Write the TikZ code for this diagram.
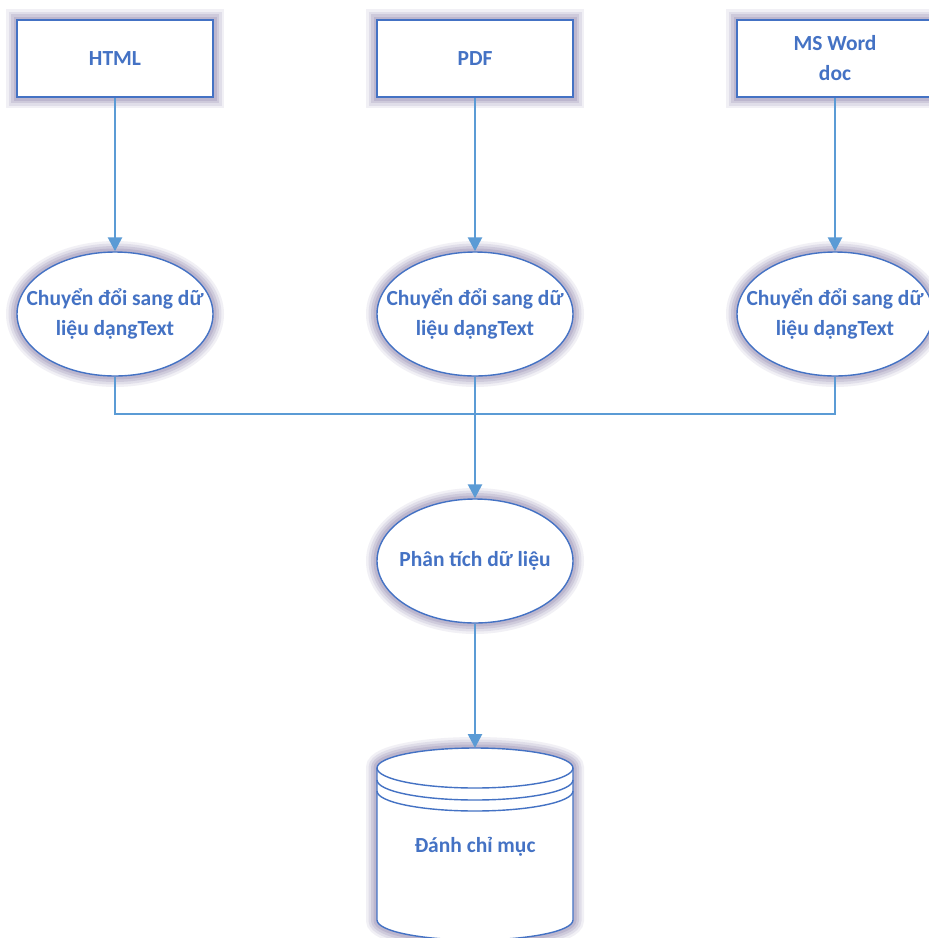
\documentclass[tikz,border=0pt]{standalone}
\usepackage{fontspec}
\setmainfont{Carlito}
\usetikzlibrary{arrows.meta,shapes.geometric}
\definecolor{edge}{RGB}{68,114,196}
\definecolor{link}{RGB}{91,155,213}
\definecolor{glowc}{RGB}{125,115,160}
\tikzset{
  glow/.style={
    preaction={draw=glowc, line width=22pt, draw opacity=0.10},
    preaction={draw=glowc, line width=17pt, draw opacity=0.14},
    preaction={draw=glowc, line width=12pt, draw opacity=0.18},
    preaction={draw=glowc, line width=7pt, draw opacity=0.22}},
  shape base/.style={draw=edge, line width=1.4pt, fill=white, glow, inner sep=0pt},
  srcbox/.style={shape base, rectangle, minimum width=196pt, minimum height=77pt},
  proc/.style={shape base, ellipse, minimum width=196pt, minimum height=124pt},
  lbl/.style={text=edge, font=\bfseries\fontsize{21.5}{30}\selectfont, align=center, inner sep=0pt},
  link line/.style={draw=link, line width=2.6pt},
  arr/.style={link line, -{Triangle[width=14pt,length=14pt]}}
}
\begin{document}
\begin{tikzpicture}[x=1pt,y=-1pt]
  \useasboundingbox (0,0) rectangle (929,938);
  \clip (0,0) rectangle (929,938);
  \fill[white] (0,0) rectangle (929,938);

  % source documents
  \node[srcbox] (html) at (115,58.5) {};
  \node[lbl] (htmlt) at (html) {HTML};
  \node[srcbox] (pdf) at (475,58.5) {};
  \node[lbl] (pdft) at (pdf) {PDF};
  \node[srcbox] (doc) at (835,58.5) {};
  \node[lbl] (doct) at (doc) {MS Word\\doc};

  % text conversion steps
  \node[proc] (c1) at (115,314) {};
  \node[lbl] (c1t) at (c1) {Chuyển đổi sang dữ\\liệu dạngText};
  \node[proc] (c2) at (475,314) {};
  \node[lbl] (c2t) at (c2) {Chuyển đổi sang dữ\\liệu dạngText};
  \node[proc] (c3) at (835,314) {};
  \node[lbl] (c3t) at (c3) {Chuyển đổi sang dữ\\liệu dạngText};

  % analysis step
  \node[proc] (ana) at (475,561) {};
  \node[lbl] (anat) at (ana) {Phân tích dữ liệu};

  % index store (cylinder)
  \coordinate (dbtop) at (475,748);
  \path[draw=edge, line width=1.4pt, fill=white, glow]
    (377,768) arc[start angle=180, end angle=0, x radius=98, y radius=-20]
    -- (573,920) arc[start angle=0, end angle=-180, x radius=98, y radius=-20]
    -- cycle;
  \draw[edge, line width=1.4pt] (377,768) arc[start angle=180, end angle=360, x radius=98, y radius=-20];
  \draw[edge, line width=1.4pt] (377,780) arc[start angle=180, end angle=360, x radius=98, y radius=-20];
  \draw[edge, line width=1.4pt] (377,791) arc[start angle=180, end angle=360, x radius=98, y radius=-20];
  \node[lbl] (dbt) at (475,847) {Đánh chỉ mục};

  % connectors
  \coordinate (join) at (475,414);
  \draw[arr] (html.south) -- (c1.north);
  \draw[arr] (pdf.south) -- (c2.north);
  \draw[arr] (doc.south) -- (c3.north);
  \draw[link line] (c1.south) |- (join) -| (c3.south);
  \draw[arr] (c2.south) -- (ana.north);
  \draw[arr] (ana.south) -- (dbtop);
\end{tikzpicture}
\end{document}
